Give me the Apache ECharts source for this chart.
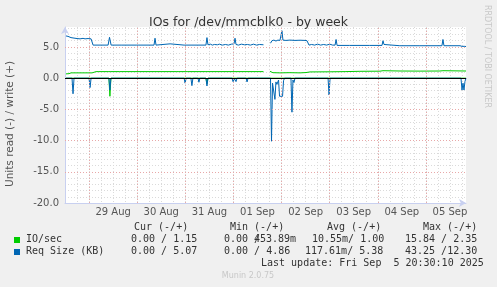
<!DOCTYPE html>
<html>
<head>
<meta charset="utf-8">
<script src="https://cdn.jsdelivr.net/npm/echarts@6/dist/echarts.min.js"></script>
<style>
html, body { margin: 0; padding: 0; background: #f0f0f0; }
#chart { width: 497px; height: 287px; }
</style>
</head>
<body>
<div id="chart"></div>
<script>
// x = hours counted from 29 Aug 00:00 (graph runs to 05 Sep ~20:30)
const dayLabels = ['29 Aug', '30 Aug', '31 Aug', '01 Sep', '02 Sep', '03 Sep', '04 Sep', '05 Sep'];
const majorY = [-15, -10, -5, 5];

// Req Size (KB), write (+)
const reqWrite = [
  [-11.5, 6.77], [-10.5, 6.7], [-9, 6.5], [-7.5, 6.42], [-6, 6.35], [-4.5, 6.3], [-3, 6.38], [-2, 6.3],
  [-0.5, 6.35], [1, 6.3], [1.5, 6.3], [2, 5.3], [9.5, 5.3], [10.2, 6.55], [11, 5.3], [16, 5.3],
  [23.5, 5.3], [24, 5.45], [24.5, 5.3], [32.4, 5.3], [32.9, 6.4], [33.4, 5.3], [40.4, 5.5], [40.9, 5.3],
  [47.4, 5.3], [47.9, 5.4], [48.4, 5.3], [58.3, 5.3], [58.8, 6.5], [59.3, 5.35], [60.5, 5.45], [61.5, 5.3],
  [62.5, 5.4], [64, 5.35], [65, 5.45], [66.5, 5.3], [68, 5.4], [69.5, 5.3], [71, 5.45], [72.3, 5.5],
  [72.8, 6.4], [73.3, 5.4], [74.5, 5.3], [76, 5.45], [77.5, 5.35], [79, 5.4], [80.5, 5.3], [82, 5.45],
  [83.5, 5.3], [85, 5.4], [87, 5.35], [87.5, null],
  [90.5, 5.6], [91.2, 6.0], [92.2, 6.1], [93.2, 5.95], [94.2, 6.1], [95.2, 6.05], [95.7, 6.15], [96.2, 7.6],
  [96.7, 6.1], [98.2, 6.05], [100.2, 6.1], [102.7, 6.05], [105.2, 6.08], [107.7, 6.05], [108.7, 6.0], [109.7, 5.3],
  [111, 5.4], [112.5, 5.3], [114, 5.45], [115.5, 5.3], [117, 5.4], [118.5, 5.3], [120, 5.45], [121.5, 5.3],
  [122.7, 5.3], [123.2, 6.2], [123.7, 5.25], [130, 5.25], [140, 5.25], [146.1, 5.25], [146.6, 6.0], [147.1, 5.4],
  [147.6, 5.25], [155, 5.2], [165, 5.2], [176, 5.2], [176.5, 6.2], [177, 5.2], [185, 5.2], [186, 5.1],
  [186.8, 5.3], [187.4, 5.1], [188, 5.07]
];

// IO/sec, write (+)
const ioWrite = [
  [-11.5, 0.69], [-10, 0.72], [-9, 0.85], [1.5, 0.85], [2, 1.05], [3.5, 1.05], [4, 1.15], [4.5, 1.05],
  [9.9, 1.05], [10.4, 1.15], [10.9, 1.05], [15, 1.05], [15.4, 1.15], [15.9, 1.05], [32.4, 1.05], [32.9, 1.15],
  [33.4, 1.05], [43.4, 1.05], [43.9, 1.15], [44.4, 1.05], [48.3, 1.05], [48.8, 1.15], [49.3, 1.05], [58.3, 1.05],
  [58.8, 1.15], [59.3, 1.05], [72.3, 1.05], [72.8, 1.15], [73.3, 1.05], [87, 1.05], [87.5, null],
  [90.2, 1.1], [90.7, 1.05], [91.7, 0.88], [95.2, 0.85], [100.2, 0.88], [105.2, 0.85], [108.2, 0.9], [110.2, 1.0],
  [120.2, 1.02], [127.7, 1.05], [135.1, 1.1], [145.1, 1.12], [146.6, 1.2], [147.1, 1.12], [155.1, 1.15], [165.1, 1.13],
  [175, 1.15], [176.5, 1.2], [177, 1.15], [188, 1.15]
];

// IO/sec, read (-)
const ioRead = [
  [-11.5, 0], [9.9, 0], [10.4, -2.9], [10.9, 0], [58.3, 0], [58.8, -0.9], [59.3, 0], [188, 0]
];

// Req Size (KB), read (-)
const reqRead = [
  [-11.5, 0], [-8.5, 0], [-8, -2.5], [-7.5, 0], [0, 0], [0.5, -1.5], [1, 0], [9.9, 0],
  [10.4, -1.9], [10.9, 0], [47.4, 0], [47.9, -0.8], [48.4, 0], [50.8, 0], [51.3, -1.2], [51.8, 0],
  [54.3, 0], [54.8, -0.65], [55.3, 0], [58.3, 0], [58.8, -1.25], [59.3, 0], [71.3, 0], [71.8, -0.55],
  [72.5, -0.1], [73.3, -0.55], [73.8, 0], [78.3, 0], [78.8, -0.6], [79.3, 0], [90.5, 0], [91, -10.1],
  [91.5, -0.8], [92.2, -0.9], [92.7, -3.4], [93.2, -0.6], [93.7, -1.0], [94.5, -0.3], [95, -2.9], [96.5, -2.9],
  [97, -0.4], [97.5, 0], [100.7, 0], [101.2, -5.45], [101.7, -0.3], [102.2, -0.7], [102.7, 0], [119.2, 0],
  [119.7, -2.7], [120.2, 0], [185.5, 0], [186, -1.9], [186.5, -0.8], [187, -1.9], [187.5, -0.5], [188, 0]
];

const GREEN = '#00cc00';
const BLUE = '#0066b3';
const mono = "'DejaVu Sans Mono', monospace";
const sans = "'DejaVu Sans', sans-serif";

const chart = echarts.init(document.getElementById('chart'));

function lineSeries(name, data, color, z) {
  return {
    name: name,
    type: 'line',
    data: data,
    showSymbol: false,
    symbol: 'none',
    connectNulls: false,
    animation: false,
    silent: true,
    z: z,
    lineStyle: { color: color, width: 1 }
  };
}

const gridDash = [1, 2];
const redGrid = { color: '#e8a8a8', width: 1, type: gridDash };

function txt(x, y, text, opts) {
  return Object.assign({
    type: 'text', x: x, y: y, silent: true,
    style: Object.assign({ text: text, font: '10px ' + mono, fill: '#333', textVerticalAlign: 'middle' }, opts || {})
  });
}

const option = {
  backgroundColor: '#f0f0f0',
  animation: false,
  title: {
    text: 'IOs for /dev/mmcblk0 - by week',
    left: 'center',
    top: 11,
    textStyle: { fontFamily: sans, fontSize: 12.5, fontWeight: 'normal', color: '#333' }
  },
  grid: {
    left: 65, right: 31, top: 27, bottom: 84,
    show: true, backgroundColor: '#ffffff', borderWidth: 0
  },
  xAxis: {
    type: 'value',
    min: -12, max: 188, interval: 6,
    axisLine: { show: true, onZero: false, lineStyle: { color: '#c8d0f0', width: 1 }, symbol: ['none', 'arrow'], symbolSize: [6, 7] },
    axisTick: { show: false },
    axisLabel: {
      margin: 4,
      fontFamily: sans, fontSize: 10, color: '#555',
      formatter: v => (v % 24 === 12 && v >= 12) ? dayLabels[(v - 12) / 24] : ''
    },
    splitLine: { show: true, showMinLine: false, showMaxLine: false, lineStyle: { color: '#dadada', width: 1, type: gridDash } }
  },
  yAxis: {
    type: 'value',
    min: -20, max: 8.2, interval: 1,
    axisLine: { show: true, onZero: false, lineStyle: { color: '#c8d0f0', width: 1 }, symbol: ['none', 'arrow'], symbolSize: [6, 7] },
    axisTick: { show: false },
    axisLabel: {
      margin: 6,
      fontFamily: sans, fontSize: 10, color: '#555',
      formatter: v => (Math.abs(v % 5) < 1e-9) ? v.toFixed(1) : ''
    },
    splitLine: { show: true, showMinLine: false, showMaxLine: false, lineStyle: { color: '#dadada', width: 1, type: gridDash } }
  },
  series: [
    {
      type: 'line', data: [], silent: true, z: 1,
      markLine: {
        silent: true, symbol: 'none', animation: false,
        label: { show: false },
        lineStyle: redGrid,
        data: dayLabels.map((d, i) => ({ xAxis: i * 24 })).concat(majorY.map(y => ({ yAxis: y })))
      }
    },
    lineSeries('IO/sec', ioWrite, GREEN, 3),
    lineSeries('IO/sec', ioRead, GREEN, 3),
    lineSeries('Req Size (KB)', reqWrite, BLUE, 4),
    lineSeries('Req Size (KB)', reqRead, BLUE, 4),
    {
      type: 'line', data: [], silent: true, z: 5,
      markLine: {
        silent: true, symbol: 'none', animation: false,
        label: { show: false },
        lineStyle: { color: '#000', width: 1.2, type: 'solid' },
        data: [{ yAxis: 0 }]
      }
    }
  ],
  graphic: [
    { type: 'text', x: 10, y: 124, rotation: Math.PI / 2, silent: true,
      style: { text: 'Units read (-) / write (+)', font: '10.5px ' + sans, fill: '#555', textAlign: 'center', textVerticalAlign: 'middle' } },
    { type: 'text', x: 487, y: 5, rotation: -Math.PI / 2, silent: true,
      style: { text: 'RRDTOOL / TOBI OETIKER', font: '8px ' + sans, fill: '#c8c8c8', textAlign: 'left', textVerticalAlign: 'middle' } },
    txt(134, 227.5, 'Cur (-/+)'),
    txt(230, 227.5, 'Min (-/+)'),
    txt(327, 227.5, 'Avg (-/+)'),
    txt(423, 227.5, 'Max (-/+)'),
    { type: 'rect', silent: true, shape: { x: 14, y: 237, width: 6, height: 6 }, style: { fill: GREEN } },
    txt(26, 239.8, 'IO/sec'),
    txt(131, 239.8, '0.00 / 1.15'),
    txt(224, 239.8, '0.00 /'),
    txt(254, 239.8, '453.89m'),
    txt(312, 239.8, '10.55m/ 1.00'),
    txt(405, 239.8, '15.84 / 2.35'),
    { type: 'rect', silent: true, shape: { x: 14, y: 249, width: 6, height: 6 }, style: { fill: BLUE } },
    txt(26, 251.8, 'Req Size (KB)'),
    txt(131, 251.8, '0.00 / 5.07'),
    txt(224, 251.8, '0.00 / 4.86'),
    txt(305, 251.8, '117.61m/ 5.38'),
    txt(405, 251.8, '43.25 /12.30'),
    txt(261, 263.5, 'Last update: Fri Sep  5 20:30:10 2025'),
    { type: 'text', x: 248, y: 276, silent: true,
      style: { text: 'Munin 2.0.75', font: '8px ' + sans, fill: '#c8c8c8', textAlign: 'center', textVerticalAlign: 'middle' } }
  ]
};

chart.setOption(option);
</script>
</body>
</html>
